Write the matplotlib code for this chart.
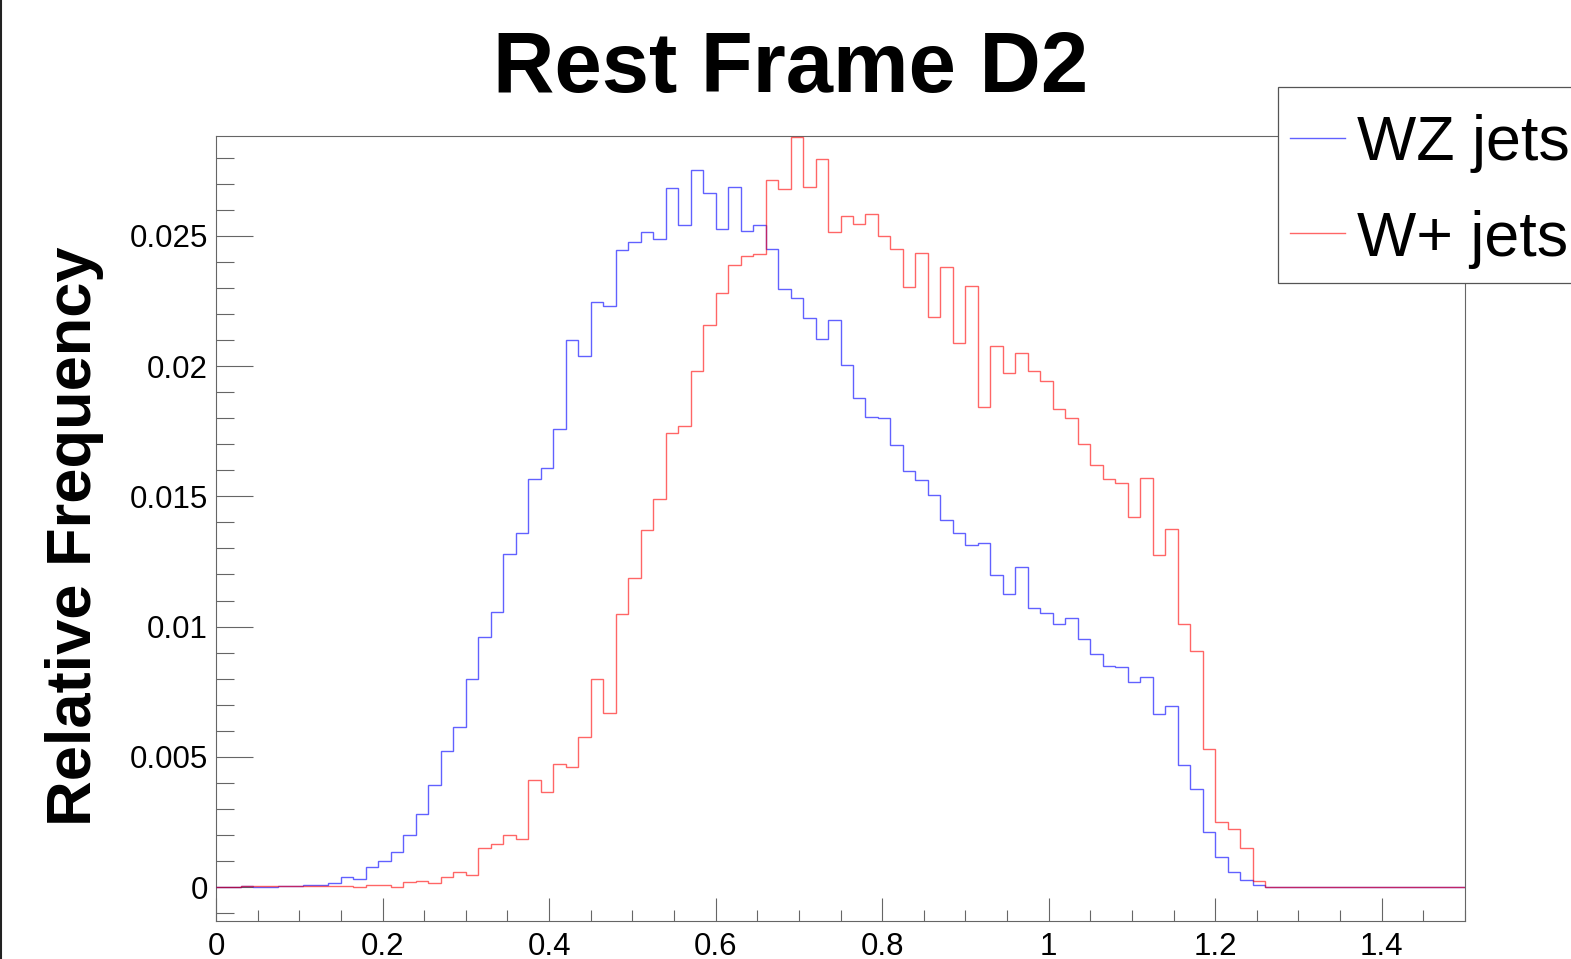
import numpy as np
import matplotlib
matplotlib.use("Agg")
import matplotlib.pyplot as plt
from matplotlib.lines import Line2D
from matplotlib.patches import Rectangle

plt.rcParams['font.family'] = ['Liberation Sans', 'DejaVu Sans']

# ---- data ----
x_min, x_max, n_bins = 0.0, 1.5, 100
bin_edges = np.linspace(x_min, x_max, n_bins + 1)

wz_jets = [
    0.0, 0.00002, 0.00003, 0.00002, 0.00002, 0.00003, 0.00004, 0.00007, 0.0001, 0.00015,
    0.00039, 0.0003, 0.00079, 0.001, 0.00136, 0.002, 0.00279, 0.00392, 0.00523, 0.00614,
    0.00799, 0.0096, 0.01056, 0.01279, 0.01359, 0.01567, 0.01609, 0.01757, 0.021, 0.02038,
    0.02244, 0.02232, 0.02444, 0.02478, 0.02513, 0.02486, 0.02685, 0.02543, 0.02754, 0.02666,
    0.02526, 0.02688, 0.02519, 0.02543, 0.0245, 0.02296, 0.0226, 0.02185, 0.02103, 0.02177,
    0.02003, 0.01876, 0.01804, 0.018, 0.01696, 0.01596, 0.01561, 0.01504, 0.0141, 0.01361,
    0.01314, 0.01319, 0.01198, 0.01125, 0.01229, 0.01071, 0.01052, 0.01011, 0.01033, 0.00954,
    0.00894, 0.00849, 0.00846, 0.00789, 0.00806, 0.00665, 0.00695, 0.0047, 0.00375, 0.00212,
    0.00114, 0.00058, 0.00026, 0.00009, 0.0, 0.0, 0.0, 0.0, 0.0, 0.0,
    0.0, 0.0, 0.0, 0.0, 0.0, 0.0, 0.0, 0.0, 0.0, 0.0,
]

wplus_jets = [
    0.00002, 0.00002, 0.00004, 0.00003, 0.00003, 0.00003, 0.00003, 0.00003, 0.00003, 0.00003,
    0.00003, 0.0, 0.00007, 0.00007, 0.00002, 0.0002, 0.00024, 0.00017, 0.0004, 0.00057,
    0.00046, 0.0015, 0.00164, 0.00202, 0.00186, 0.0041, 0.00364, 0.00473, 0.00462, 0.00576,
    0.00797, 0.0067, 0.01047, 0.01186, 0.01371, 0.01488, 0.01744, 0.01768, 0.01981, 0.02158,
    0.0228, 0.02388, 0.02423, 0.0243, 0.02713, 0.02681, 0.0288, 0.02686, 0.02794, 0.02514,
    0.02575, 0.02546, 0.02582, 0.02499, 0.0245, 0.02304, 0.02433, 0.02188, 0.0238, 0.0209,
    0.02309, 0.01844, 0.02077, 0.01975, 0.0205, 0.01981, 0.01943, 0.01837, 0.018, 0.01699,
    0.01621, 0.01567, 0.01551, 0.01421, 0.01569, 0.01276, 0.01376, 0.0101, 0.00908, 0.0053,
    0.0025, 0.00222, 0.00151, 0.00024, 0.0, 0.0, 0.0, 0.0, 0.0, 0.0,
    0.0, 0.0, 0.0, 0.0, 0.0, 0.0, 0.0, 0.0, 0.0, 0.0,
]

series_labels = ["WZ jets", "W+ jets"]
title_text = "Rest Frame D2"
y_label = "Relative Frequency"
x_major_ticks = [0, 0.2, 0.4, 0.6, 0.8, 1.0, 1.2, 1.4]
x_tick_labels = ["0", "0.2", "0.4", "0.6", "0.8", "1", "1.2", "1.4"]
y_major_ticks = [0, 0.005, 0.01, 0.015, 0.02, 0.025]
y_tick_labels = ["0", "0.005", "0.01", "0.015", "0.02", "0.025"]

# ---- figure ----
W, H = 1571, 959
fig = plt.figure(figsize=(W / 100, H / 100), dpi=100)
L, R, T, B = 216, 1465, 136, 921
ax = fig.add_axes([L / W, 1 - B / H, (R - L) / W, (B - T) / H])

blue = (0.0, 0.0, 1.0, 0.62)
red = (1.0, 0.0, 0.0, 0.6)
ax.stairs(wz_jets, bin_edges, baseline=None, color=blue, lw=1.0, zorder=3)
ax.stairs(wplus_jets, bin_edges, baseline=None, color=red, lw=1.0, zorder=4)

ax.set_xlim(x_min, x_max)
ax.set_ylim(-0.0013, 0.02883)

frame_col = '#666666'
for s in ax.spines.values():
    s.set_color(frame_col)
    s.set_linewidth(0.8)

ax.set_xticks(x_major_ticks)
ax.set_xticklabels(x_tick_labels)
ax.set_xticks(np.arange(0, 1.5001, 0.05), minor=True)
ax.set_yticks(y_major_ticks)
ax.set_yticklabels(y_tick_labels)
ax.set_yticks(np.arange(-0.001, 0.0285, 0.001), minor=True)

ax.tick_params(axis='x', which='major', direction='in', length=16.5, width=0.8,
               color=frame_col, labelsize=22.5, pad=8)
ax.tick_params(axis='x', which='minor', direction='in', length=8, width=0.8,
               color=frame_col)
ax.tick_params(axis='y', which='major', direction='in', length=26.5, width=0.8,
               color=frame_col, labelsize=22.5, pad=6)
ax.tick_params(axis='y', which='minor', direction='in', length=13, width=0.8,
               color=frame_col)

# title
fig.text(790.5 / W, 1 - 92 / H, title_text, ha='center', va='baseline',
         fontsize=61.2, fontweight='bold')

# y label
fig.text(45 / W, 1 - 536 / H, y_label, rotation=90, ha='left', va='center',
         fontsize=45.5, fontweight='bold')

# legend box (extends past right edge, as in reference)
leg = Rectangle((1278 / W, 1 - 283 / H), (1700 - 1278) / W, (283 - 87) / H,
                transform=fig.transFigure, facecolor='white', edgecolor='#555555',
                lw=0.9, zorder=10, clip_on=False)
fig.add_artist(leg)
for (ly, tb, col, lab) in [(138, 160, blue, series_labels[0]),
                           (233, 256, red, series_labels[1])]:
    fig.add_artist(Line2D([1290 / W, 1345 / W], [1 - ly / H, 1 - ly / H],
                          transform=fig.transFigure, color=col, lw=1.0, zorder=11))
    fig.text(1357 / W, 1 - tb / H, lab, ha='left', va='baseline', fontsize=45.2,
             zorder=12)

# canvas left border
fig.add_artist(Line2D([1 / W, 1 / W], [0, 1], transform=fig.transFigure,
                      color='#222222', lw=1.5))

fig.savefig("out.png", dpi=100)
